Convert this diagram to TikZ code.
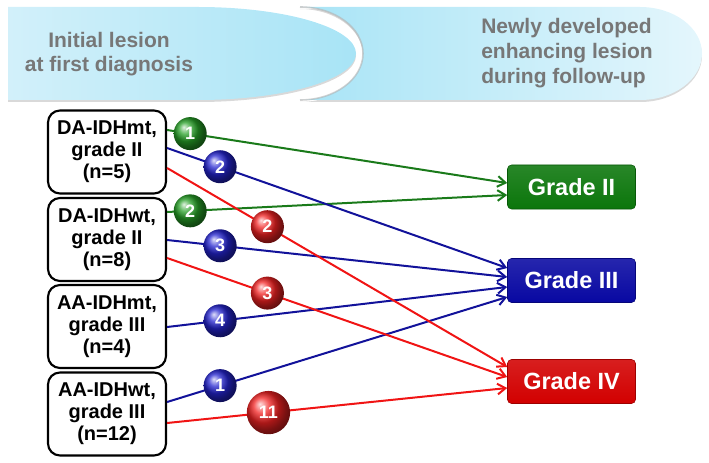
\documentclass[tikz,border=0pt]{standalone}
\usepackage{fontspec}
\setmainfont{Liberation Sans}
\usetikzlibrary{arrows.meta,calc,shadows}
\definecolor{gII}{HTML}{0B760B}
\definecolor{gIII}{HTML}{0808A2}
\definecolor{gIV}{HTML}{D20000}
\definecolor{lgreen}{HTML}{1A7A1A}
\definecolor{lblue}{HTML}{12129A}
\definecolor{lred}{HTML}{F01414}
\definecolor{bgreen}{HTML}{26A026}
\definecolor{bblue}{HTML}{2424D0}
\definecolor{bred}{HTML}{F22222}
\definecolor{bannertxt}{HTML}{777777}
\definecolor{cyanA}{HTML}{A8E4F6}
\definecolor{cyanB}{HTML}{D2F0FA}
\definecolor{cyanC}{HTML}{E4F6FC}
\begin{document}
\begin{tikzpicture}[x=0.75pt,y=-0.75pt,
  src/.style={draw, line width=1.6pt, rounded corners=9pt, minimum width=88.5pt,
    minimum height=62.25pt, align=center, inner sep=0pt,
    font=\bfseries\fontsize{15}{16.5}\selectfont},
  grade/.style={rounded corners=3pt, minimum width=96pt, minimum height=33pt,
    inner sep=0pt, text=white, font=\bfseries\fontsize{17.6}{20}\selectfont},
  num/.style={circle, minimum size=24.75pt, inner sep=0pt, ball color=#1,
    text=white, font=\bfseries\fontsize{13.5}{14}\selectfont},
  bignum/.style={num=#1, minimum size=32.5pt},
  link/.style={line width=1.5pt, -{Straight Barb[length=6pt,width=8pt]}},
  bannerlabel/.style={text=bannertxt, inner sep=0pt,
    font=\bfseries\fontsize{15.75}{18.5}\selectfont}]
\useasboundingbox (0,0) rectangle (709,463);

% banners
\path[drop shadow={shadow xshift=0pt,shadow yshift=-1.5pt,opacity=.3},
  left color=cyanA, right color=cyanC]
  (300,7) -- (640,7) arc[start angle=-90,end angle=90,x radius=62,y radius=46.5]
  -- (300,100) arc[start angle=90,end angle=-90,x radius=63,y radius=46.5] -- cycle;
\draw[black!30, line width=1.2pt, opacity=.6]
  (300,100) arc[start angle=90,end angle=-90,x radius=63,y radius=46.5];
\path[drop shadow={shadow xshift=0pt,shadow yshift=-1.5pt,opacity=.3},
  left color=cyanB, right color=cyanA]
  (8,7) -- (198,7) arc[start angle=-90,end angle=90,x radius=158,y radius=46.5]
  -- (8,100) -- cycle;
\node[bannerlabel, align=center] (t1) at (109,54) {Initial lesion\\at first diagnosis};
\node[bannerlabel, align=left, anchor=west] (t2) at (481,53) {Newly developed\\enhancing lesion\\during follow-up};

% source boxes
\node[src] (b1) at (107,152) {DA-IDHmt,\\grade II\\(n=5)};
\node[src] (b2) at (107,239.5) {DA-IDHwt,\\grade II\\(n=8)};
\node[src] (b3) at (107,326.5) {AA-IDHmt,\\grade III\\(n=4)};
\node[src] (b4) at (107,414) {AA-IDHwt,\\grade III\\(n=12)};

% grade boxes
\node[grade, top color=gII!88!white, bottom color=gII, draw=gII!75!black] (g2) at (571.5,187) {Grade II};
\node[grade, top color=gIII!88!white, bottom color=gIII, draw=gIII!75!black] (g3) at (571.5,280.5) {Grade III};
\node[grade, top color=gIV!88!white, bottom color=gIV, draw=gIV!75!black] (g4) at (571.5,381.5) {Grade IV};

% start points
\coordinate (s1g) at ($(b1.east)+(0,-22)$);
\coordinate (s1b) at ($(b1.east)+(0,-4)$);
\coordinate (s1r) at ($(b1.east)+(0,16)$);
\coordinate (s2g) at ($(b2.east)+(0,-27.5)$);
\coordinate (s2b) at ($(b2.east)+(0,0.5)$);
\coordinate (s2r) at ($(b2.east)+(0,18.5)$);
\coordinate (s3b) at ($(b3.east)+(0,0.5)$);
\coordinate (s4b) at ($(b4.east)+(0,-12)$);
\coordinate (s4r) at ($(b4.east)+(0,9)$);
% end points
\coordinate (e1g) at ($(g2.west)+(0,-4)$);
\coordinate (e2g) at ($(g2.west)+(0,8)$);
\coordinate (e1b) at ($(g3.west)+(0,-12.5)$);
\coordinate (e2b) at ($(g3.west)+(0,-3.5)$);
\coordinate (e3b) at ($(g3.west)+(0,6.5)$);
\coordinate (e4b) at ($(g3.west)+(0,16.5)$);
\coordinate (e1r) at ($(g4.west)+(0,-14.5)$);
\coordinate (e2r) at ($(g4.west)+(0,-4.5)$);
\coordinate (e4r) at ($(g4.west)+(0,6.5)$);

% connectors
\draw[link, lgreen] (s1g) -- (e1g);
\draw[link, lgreen] (s2g) -- (e2g);
\draw[link, lblue] (s1b) -- (e1b);
\draw[link, lblue] (s2b) -- (e2b);
\draw[link, lblue] (s3b) -- (e3b);
\draw[link, lblue] (s4b) -- (e4b);
\draw[link, lred] (s1r) -- (e1r);
\draw[link, lred] (s2r) -- (e2r);
\draw[link, lred] (s4r) -- (e4r);

% counts
\path (s1g) -- (e1g) node[num=bgreen, pos=0.068] (n1) {1};
\path (s2g) -- (e2g) node[num=bgreen, pos=0.068] (n2) {2};
\path (s1b) -- (e1b) node[num=bblue, pos=0.156] (n3) {2};
\path (s2b) -- (e2b) node[num=bblue, pos=0.156] (n4) {3};
\path (s3b) -- (e3b) node[num=bblue, pos=0.156] (n5) {4};
\path (s4b) -- (e4b) node[num=bblue, pos=0.156] (n6) {1};
\path (s1r) -- (e1r) node[num=bred, pos=0.295] (n7) {2};
\path (s2r) -- (e2r) node[num=bred, pos=0.295] (n8) {3};
\path (s4r) -- (e4r) node[bignum=bred, pos=0.298] (n9) {11};
\end{tikzpicture}
\end{document}
